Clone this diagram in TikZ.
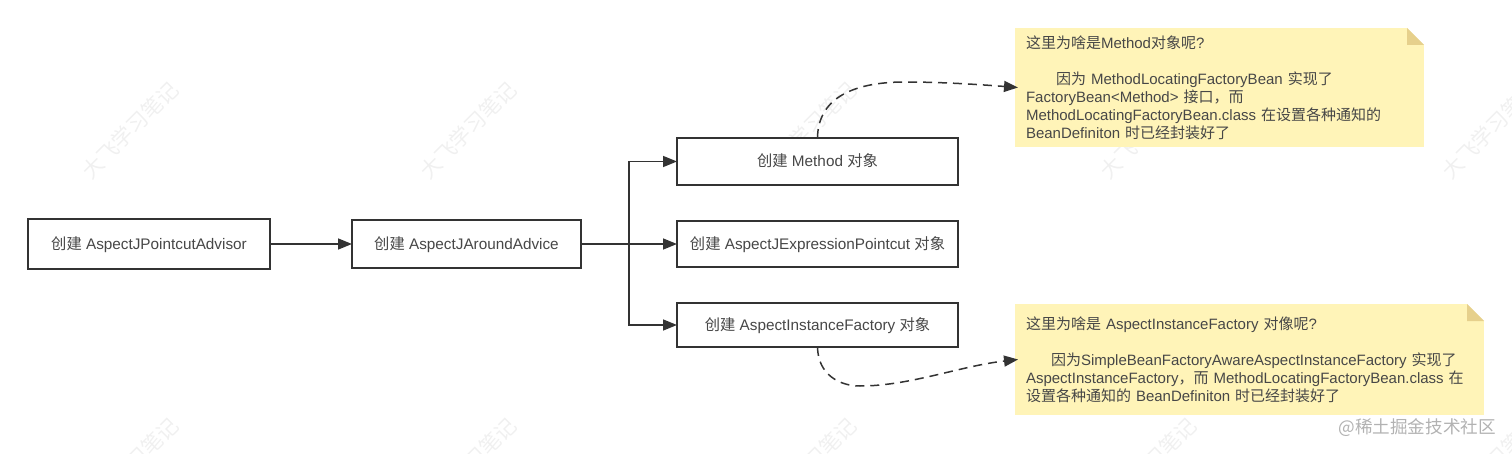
\documentclass[tikz,border=0pt]{standalone}
\usepackage{fontspec}
\setmainfont{Liberation Sans}
\newfontfamily\cjk{Noto Sans CJK SC}
\newcommand{\zh}[1]{{\cjk #1}}
\usetikzlibrary{arrows.meta}
\definecolor{ink}{HTML}{333333}
\definecolor{notefill}{HTML}{FFF4B8}
\definecolor{foldfill}{HTML}{E6D08C}
\definecolor{wm}{HTML}{F0F0F0}
\tikzset{
  x=1pt,y=-1pt,
  boxnode/.style={draw=ink,line width=1.7pt,fill=white,text=ink!90,inner sep=0pt,outer sep=0pt,anchor=north west,text height=13pt,text depth=2pt,font=\fontsize{15.3}{18}\selectfont},
  notenode/.style={fill=notefill,text=ink!90,anchor=north west,inner xsep=11pt,inner ysep=0pt,outer sep=0pt,align=left,font=\fontsize{15}{18}\selectfont},
  conn/.style={draw=ink,line width=1.5pt,-{Triangle[length=14pt,width=11pt]}},
  dashconn/.style={conn,dash pattern=on 9pt off 6pt},
  water/.style={text=wm,rotate=45,font=\fontsize{21}{21}\selectfont\cjk},
}
\begin{document}
\begin{tikzpicture}
\useasboundingbox (0,0) rectangle (1512,454);
\begin{scope}
\clip (0,0) rectangle (1512,454);
\foreach \wx/\wid in {130/w1,468/w2,808/w3,1148/w4,1490/w5}{
  \node[water] (\wid a) at (\wx,130) {大飞学习笔记};
  \node[water] (\wid b) at (\wx,466) {大飞学习笔记};
}
\end{scope}
\node[boxnode,minimum width=242pt,minimum height=50pt] (a) at (28,219) {\zh{创建} AspectJPointcutAdvisor};
\node[boxnode,minimum width=229pt,minimum height=48pt] (b) at (352,220) {\zh{创建} AspectJAroundAdvice};
\node[boxnode,minimum width=281pt,minimum height=47pt] (m) at (677,138) {\zh{创建} Method \zh{对象}};
\node[boxnode,minimum width=281pt,minimum height=46pt] (e) at (677,221) {\zh{创建} AspectJExpressionPointcut \zh{对象}};
\node[boxnode,minimum width=281pt,minimum height=44pt] (f) at (677,303) {\zh{创建} AspectInstanceFactory \zh{对象}};
\node[notenode,minimum width=409pt,minimum height=119pt,text width=387pt] (n1) at (1015,28) {\zh{这里为啥是}Method\zh{对象呢}?\\[18pt]
\hspace*{30pt}\zh{因为} MethodLocatingFactoryBean \zh{实现了}\\
FactoryBean<Method> \zh{接口，而}\\
MethodLocatingFactoryBean.class \zh{在设置各种通知的}\\
BeanDefiniton \zh{时已经封装好了}};
\node[notenode,minimum width=469pt,minimum height=111pt,text width=447pt] (n2) at (1015,304) {\zh{这里为啥是} AspectInstanceFactory \zh{对像呢}?\\[18pt]
\hspace*{25pt}\zh{因为}SimpleBeanFactoryAwareAspectInstanceFactory \zh{实现了}\\
AspectInstanceFactory\zh{，而} MethodLocatingFactoryBean.class \zh{在}\\
\zh{设置各种通知的} BeanDefiniton \zh{时已经封装好了}};
% folded corners
\fill[white] (n1.north east) -- ++(-17,0) -- ++(17,17) -- cycle;
\fill[foldfill] (n1.north east) ++(-17,0) -- ++(17,17) -- ++(-17,0) -- cycle;
\fill[white] (n2.north east) -- ++(-17,0) -- ++(17,17) -- cycle;
\fill[foldfill] (n2.north east) ++(-17,0) -- ++(17,17) -- ++(-17,0) -- cycle;
% connectors
\coordinate (bus) at (629,244);
\coordinate (n1in) at ([xshift=3pt]n1.west);
\coordinate (n2in) at ([xshift=3pt]n2.west);
\draw[conn] (a.east) -- (b.west);
\draw[conn] (b.east) -- (e.west);
\draw[conn] (bus) |- (m.west);
\draw[conn] (bus) |- (f.west);
\draw[dashconn] (m.north) .. controls (818,100) and (850,82) .. (905,82) .. controls (945,82) and (985,85) .. (n1in);
\draw[dashconn] (f.south) .. controls (818,375) and (840,386) .. (860,386) .. controls (910,386) and (960,366) .. (n2in);
% site mark
\node[text=black!30,anchor=east,inner sep=0pt,font=\fontsize{17.6}{17.6}\selectfont\cjk] (mark) at (1496,428) {@稀土掘金技术社区};
\end{tikzpicture}
\end{document}
